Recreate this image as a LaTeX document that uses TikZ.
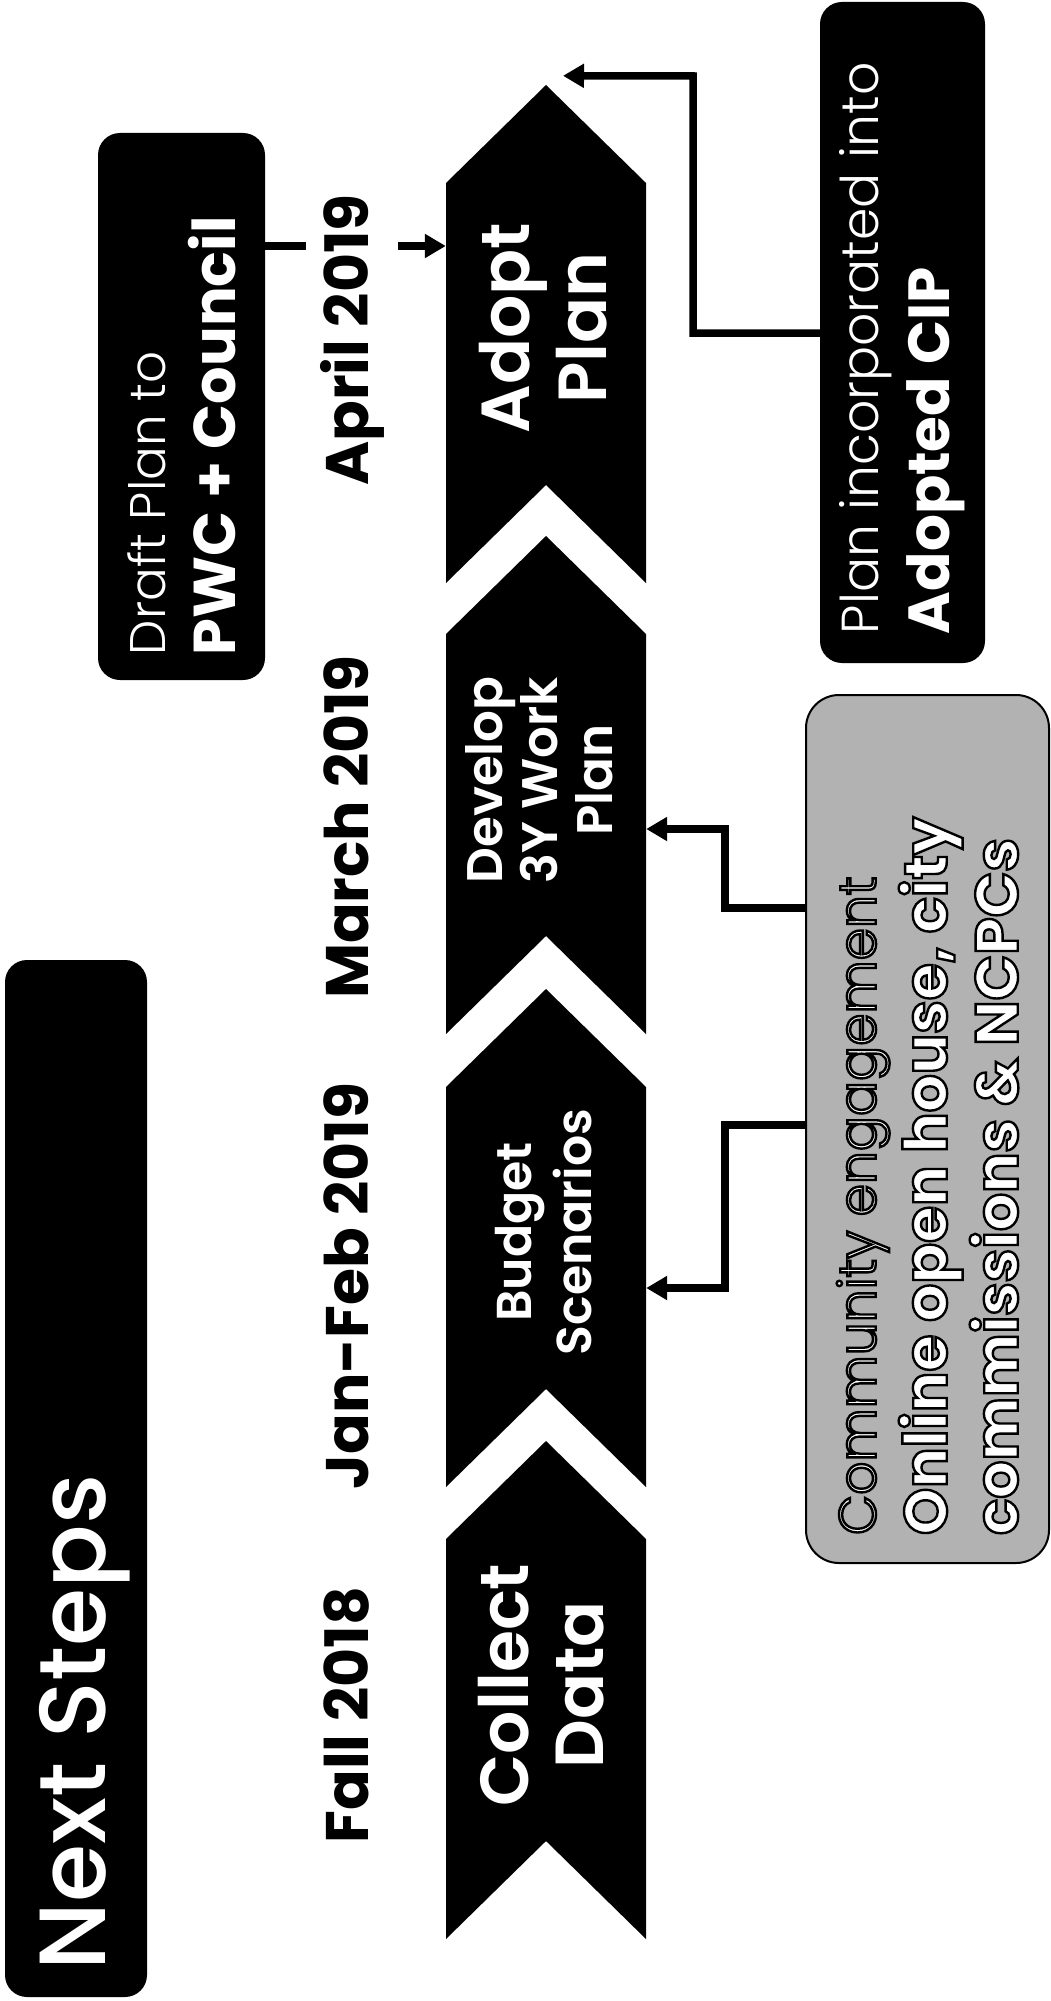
\documentclass[tikz,border=0pt]{standalone}
\usepackage{fontspec}
\setmainfont{Poppins}
\newfontfamily\plight{Poppins Light}
\newfontfamily\psemi{Poppins SemiBold}
\newfontfamily\pmed{Poppins Medium}
\usetikzlibrary{arrows.meta,backgrounds}
\newcommand{\outlined}[1]{\special{pdf:literal direct 2 Tr 2.4 w 0 G}#1\special{pdf:literal direct 0 Tr}}
\tikzset{
  darkbox/.style={fill=black, rounded corners=22pt, inner sep=0pt, text=white},
  engbox/.style={fill=black!30, draw=black, line width=2pt, rounded corners=33pt, inner sep=0pt, text=white},
  chevtext/.style={inner sep=0pt, minimum width=200pt, minimum height=498pt, text=white},
  chevfill/.style={fill=black},
  datelabel/.style={fill=white, inner sep=14pt, rotate=90, anchor=base, font=\bfseries\fontsize{60}{70}\selectfont},
  conn/.style={line width=7.5pt, -{Triangle[length=21pt,width=23pt]}},
}
\begin{document}
\begin{tikzpicture}[x=1pt,y=-1pt]
\begin{scope}[on background layer]
\fill[white] (0,0) rectangle (1051,2001);
\end{scope}
\useasboundingbox (0,0) rectangle (1051,2001);

% chevrons
\foreach \t in {85,536,989,1441}
  \fill[chevfill] (546,\t) -- (646,\t+98) -- (646,\t+498) -- (546,\t+400) -- (446,\t+498) -- (446,\t+98) -- cycle;

% boxes
\node[darkbox, minimum width=142pt, minimum height=1037pt] (title) at (76,1478.5)
  {\rotatebox{90}{\raisebox{-9pt}[\height][\depth]{\makebox[983pt][l]{\pmed\fontsize{94}{110}\selectfont Next Steps}}}};

\node[darkbox, minimum width=167pt, minimum height=547pt] (draft) at (181.5,406.5)
  {\rotatebox{90}{\parbox{497pt}{\raggedright\plight\fontsize{50}{70}\selectfont Draft Plan to\\\normalfont\bfseries\fontsize{59}{70}\selectfont PWC + Council}}};

\node[darkbox, minimum width=165pt, minimum height=661pt] (planinc) at (902.5,332.5)
  {\rotatebox{90}{\parbox{603pt}{\raggedright\plight\fontsize{52}{71}\selectfont Plan incorporated into\\\normalfont\bfseries\fontsize{58}{71}\selectfont Adopted CIP}}};

\node[engbox, minimum width=243pt, minimum height=868pt] (engage) at (927.5,1129)
  {\rotatebox{90}{\parbox{812pt}{\raggedright\outlined{\plight\fontsize{52}{71}\selectfont Community engagement\\\normalfont\bfseries\fontsize{60}{71}\selectfont Online open house, city\\commissions \& NCPCs}}}};

% chevron labels
\node[chevtext] (adopt) at (546,334)
  {\rotatebox{90}{\hspace*{12pt}\psemi\fontsize{68}{77}\selectfont\raisebox{-7pt}[\height][\depth]{\begin{tabular}{@{}c@{}}Adopt\\Plan\end{tabular}}}};
\node[chevtext] (develop) at (546,785)
  {\rotatebox{90}{\hspace*{10pt}\psemi\fontsize{50}{55}\selectfont\begin{tabular}{@{}c@{}}Develop\\3Y Work\\Plan\end{tabular}}};
\node[chevtext] (budget) at (546,1238)
  {\rotatebox{90}{\hspace*{12pt}\psemi\fontsize{49}{60}\selectfont\raisebox{-3pt}[\height][\depth]{\begin{tabular}{@{}c@{}}Budget\\Scenarios\end{tabular}}}};
\node[chevtext] (collect) at (546,1690)
  {\rotatebox{90}{\hspace*{10pt}\psemi\fontsize{68}{75}\selectfont\raisebox{-5pt}[\height][\depth]{\begin{tabular}{@{}c@{}}Collect\\Data\end{tabular}}}};

% dates
\node[datelabel] (fall) at (368,1715) {Fall 2018};
\node[datelabel] (janfeb) at (368,1286) {Jan-Feb 2019};
\node[datelabel] (march) at (368,827) {March 2019};
\node[datelabel] (april) at (368,340) {April 2019};

% connectors
\begin{scope}[on background layer]
\draw[conn] (draft.east |- 0,246) -- (adopt.west |- 0,246);
\draw[conn] (planinc.west |- 0,333) -| (693,76) -- ([xshift=17pt,yshift=9pt]adopt.north);
\draw[conn] (engage.west |- 0,908) -| (725,829) -- (develop.east |- 0,829);
\draw[conn] (engage.west |- 0,1125) -| (725,1288) -- (budget.east |- 0,1288);
\end{scope}
\end{tikzpicture}
\end{document}
